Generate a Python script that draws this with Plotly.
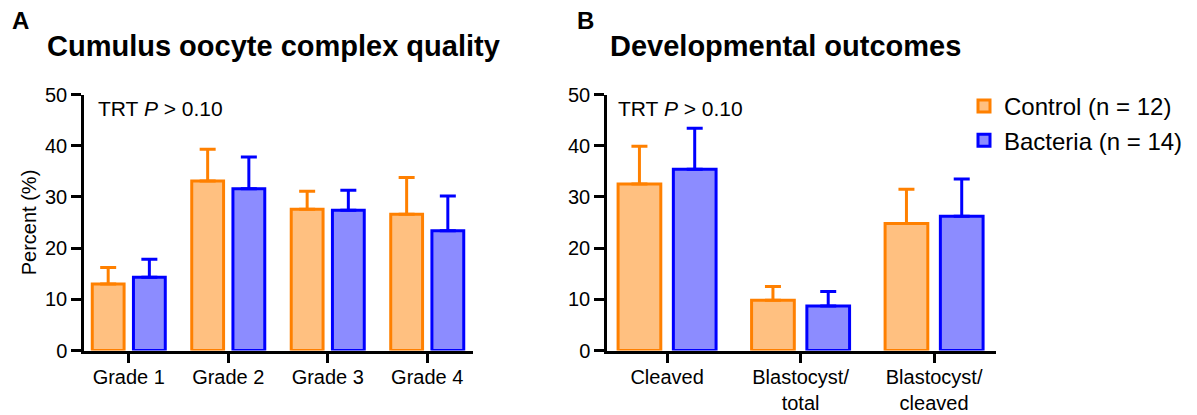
import plotly.graph_objects as go

# ---------------- data ----------------
cats_a = ["Grade 1", "Grade 2", "Grade 3", "Grade 4"]
ctrl_a_mean = [13.0, 33.1, 27.6, 26.6]
ctrl_a_sem = [3.2, 6.2, 3.5, 7.2]
bact_a_mean = [14.3, 31.6, 27.4, 23.4]
bact_a_sem = [3.5, 6.2, 3.9, 6.8]

cats_b = ["Cleaved", "Blastocyst/<br>total", "Blastocyst/<br>cleaved"]
ctrl_b_mean = [32.5, 9.8, 24.8]
ctrl_b_sem = [7.4, 2.7, 6.7]
bact_b_mean = [35.4, 8.7, 26.2]
bact_b_sem = [8.0, 2.8, 7.3]

series_names = ["Control (n = 12)", "Bacteria (n = 14)"]
y_ticks = [0, 10, 20, 30, 40, 50]

# ---------------- style ----------------
W, H = 1197, 415
FONT = "Liberation Sans, Arial, sans-serif"
ctrl_fill, ctrl_line = "rgb(255,192,128)", "rgb(255,128,0)"
bact_fill, bact_line = "rgb(140,140,255)", "rgb(0,0,255)"


def px_x(p):
    return p / W


def px_y(p):
    return 1 - p / H


fig = go.Figure()


def add_bar(x, y, sem, name, fill, line, xa, ya, show):
    fig.add_trace(go.Bar(
        x=x, y=y, name=name, xaxis=xa, yaxis=ya,
        legendgroup=name, showlegend=show,
        marker=dict(color=fill, line=dict(color=line, width=3)),
        error_y=dict(type="data", array=sem, arrayminus=[0] * len(sem),
                     symmetric=False, color=line, thickness=3, width=8),
    ))


add_bar(cats_a, ctrl_a_mean, ctrl_a_sem, series_names[0], ctrl_fill, ctrl_line, "x", "y", True)
add_bar(cats_a, bact_a_mean, bact_a_sem, series_names[1], bact_fill, bact_line, "x", "y", True)
add_bar(cats_b, ctrl_b_mean, ctrl_b_sem, series_names[0], ctrl_fill, ctrl_line, "x2", "y2", False)
add_bar(cats_b, bact_b_mean, bact_b_sem, series_names[1], bact_fill, bact_line, "x2", "y2", False)

ydom = [px_y(350.5), px_y(94.5)]
xcommon = dict(type="category", showline=True, linecolor="black", linewidth=2.5,
               ticks="outside", ticklen=10, tickwidth=2.5, tickcolor="black",
               showgrid=False, zeroline=False, ticklabelstandoff=-3,
               tickfont=dict(family=FONT, size=20, color="black"))
ycommon = dict(range=[0, 50], tickvals=y_ticks, showline=True, linecolor="black",
               linewidth=2.5, ticks="outside", ticklen=10, tickwidth=2.5,
               tickcolor="black", showgrid=False, zeroline=False,
               tickfont=dict(family=FONT, size=20, color="black"))

fig.update_layout(
    width=W, height=H,
    margin=dict(l=0, r=0, t=0, b=0, autoexpand=False),
    paper_bgcolor="white", plot_bgcolor="white",
    barmode="group", bargap=0.172, bargroupgap=0.227,
    font=dict(family=FONT, color="black"),
    xaxis=dict(domain=[px_x(84), px_x(473)], anchor="y",
               range=[-0.45, len(cats_a) - 0.54], **xcommon),
    yaxis=dict(domain=ydom, anchor="x",
               title=dict(text="Percent (%)", font=dict(family=FONT, size=20, color="black"),
                          standoff=4),
               **ycommon),
    xaxis2=dict(domain=[px_x(607), px_x(995.5)], anchor="y2",
                range=[-0.45, len(cats_b) - 0.54], **xcommon),
    yaxis2=dict(domain=ydom, anchor="x2", **ycommon),
    legend=dict(x=px_x(964), y=px_y(84), xanchor="left", yanchor="top",
                font=dict(family=FONT, size=24, color="black"),
                bgcolor="rgba(0,0,0,0)", tracegroupgap=0, itemwidth=30),
)

annots = [
    dict(text="<b>A</b>", x=px_x(10), y=px_y(20), font=dict(size=24)),
    dict(text="<b>B</b>", x=px_x(575), y=px_y(20), font=dict(size=24)),
    dict(text="<b>Cumulus oocyte complex quality</b>", x=px_x(45), y=px_y(46), font=dict(size=29)),
    dict(text="<b>Developmental outcomes</b>", x=px_x(608), y=px_y(46), font=dict(size=29)),
    dict(text="TRT <i>P</i> &gt; 0.10", x=px_x(96), y=px_y(108), font=dict(size=21)),
    dict(text="TRT <i>P</i> &gt; 0.10", x=px_x(616), y=px_y(108), font=dict(size=21)),
]
for a in annots:
    a["font"].update(family=FONT, color="black")
    fig.add_annotation(xref="paper", yref="paper", xanchor="left", yanchor="middle",
                       showarrow=False, **a)

fig.write_html("out.html", config={"displayModeBar": False},
               post_script="document.body.style.margin='0';document.body.style.padding='0';")
